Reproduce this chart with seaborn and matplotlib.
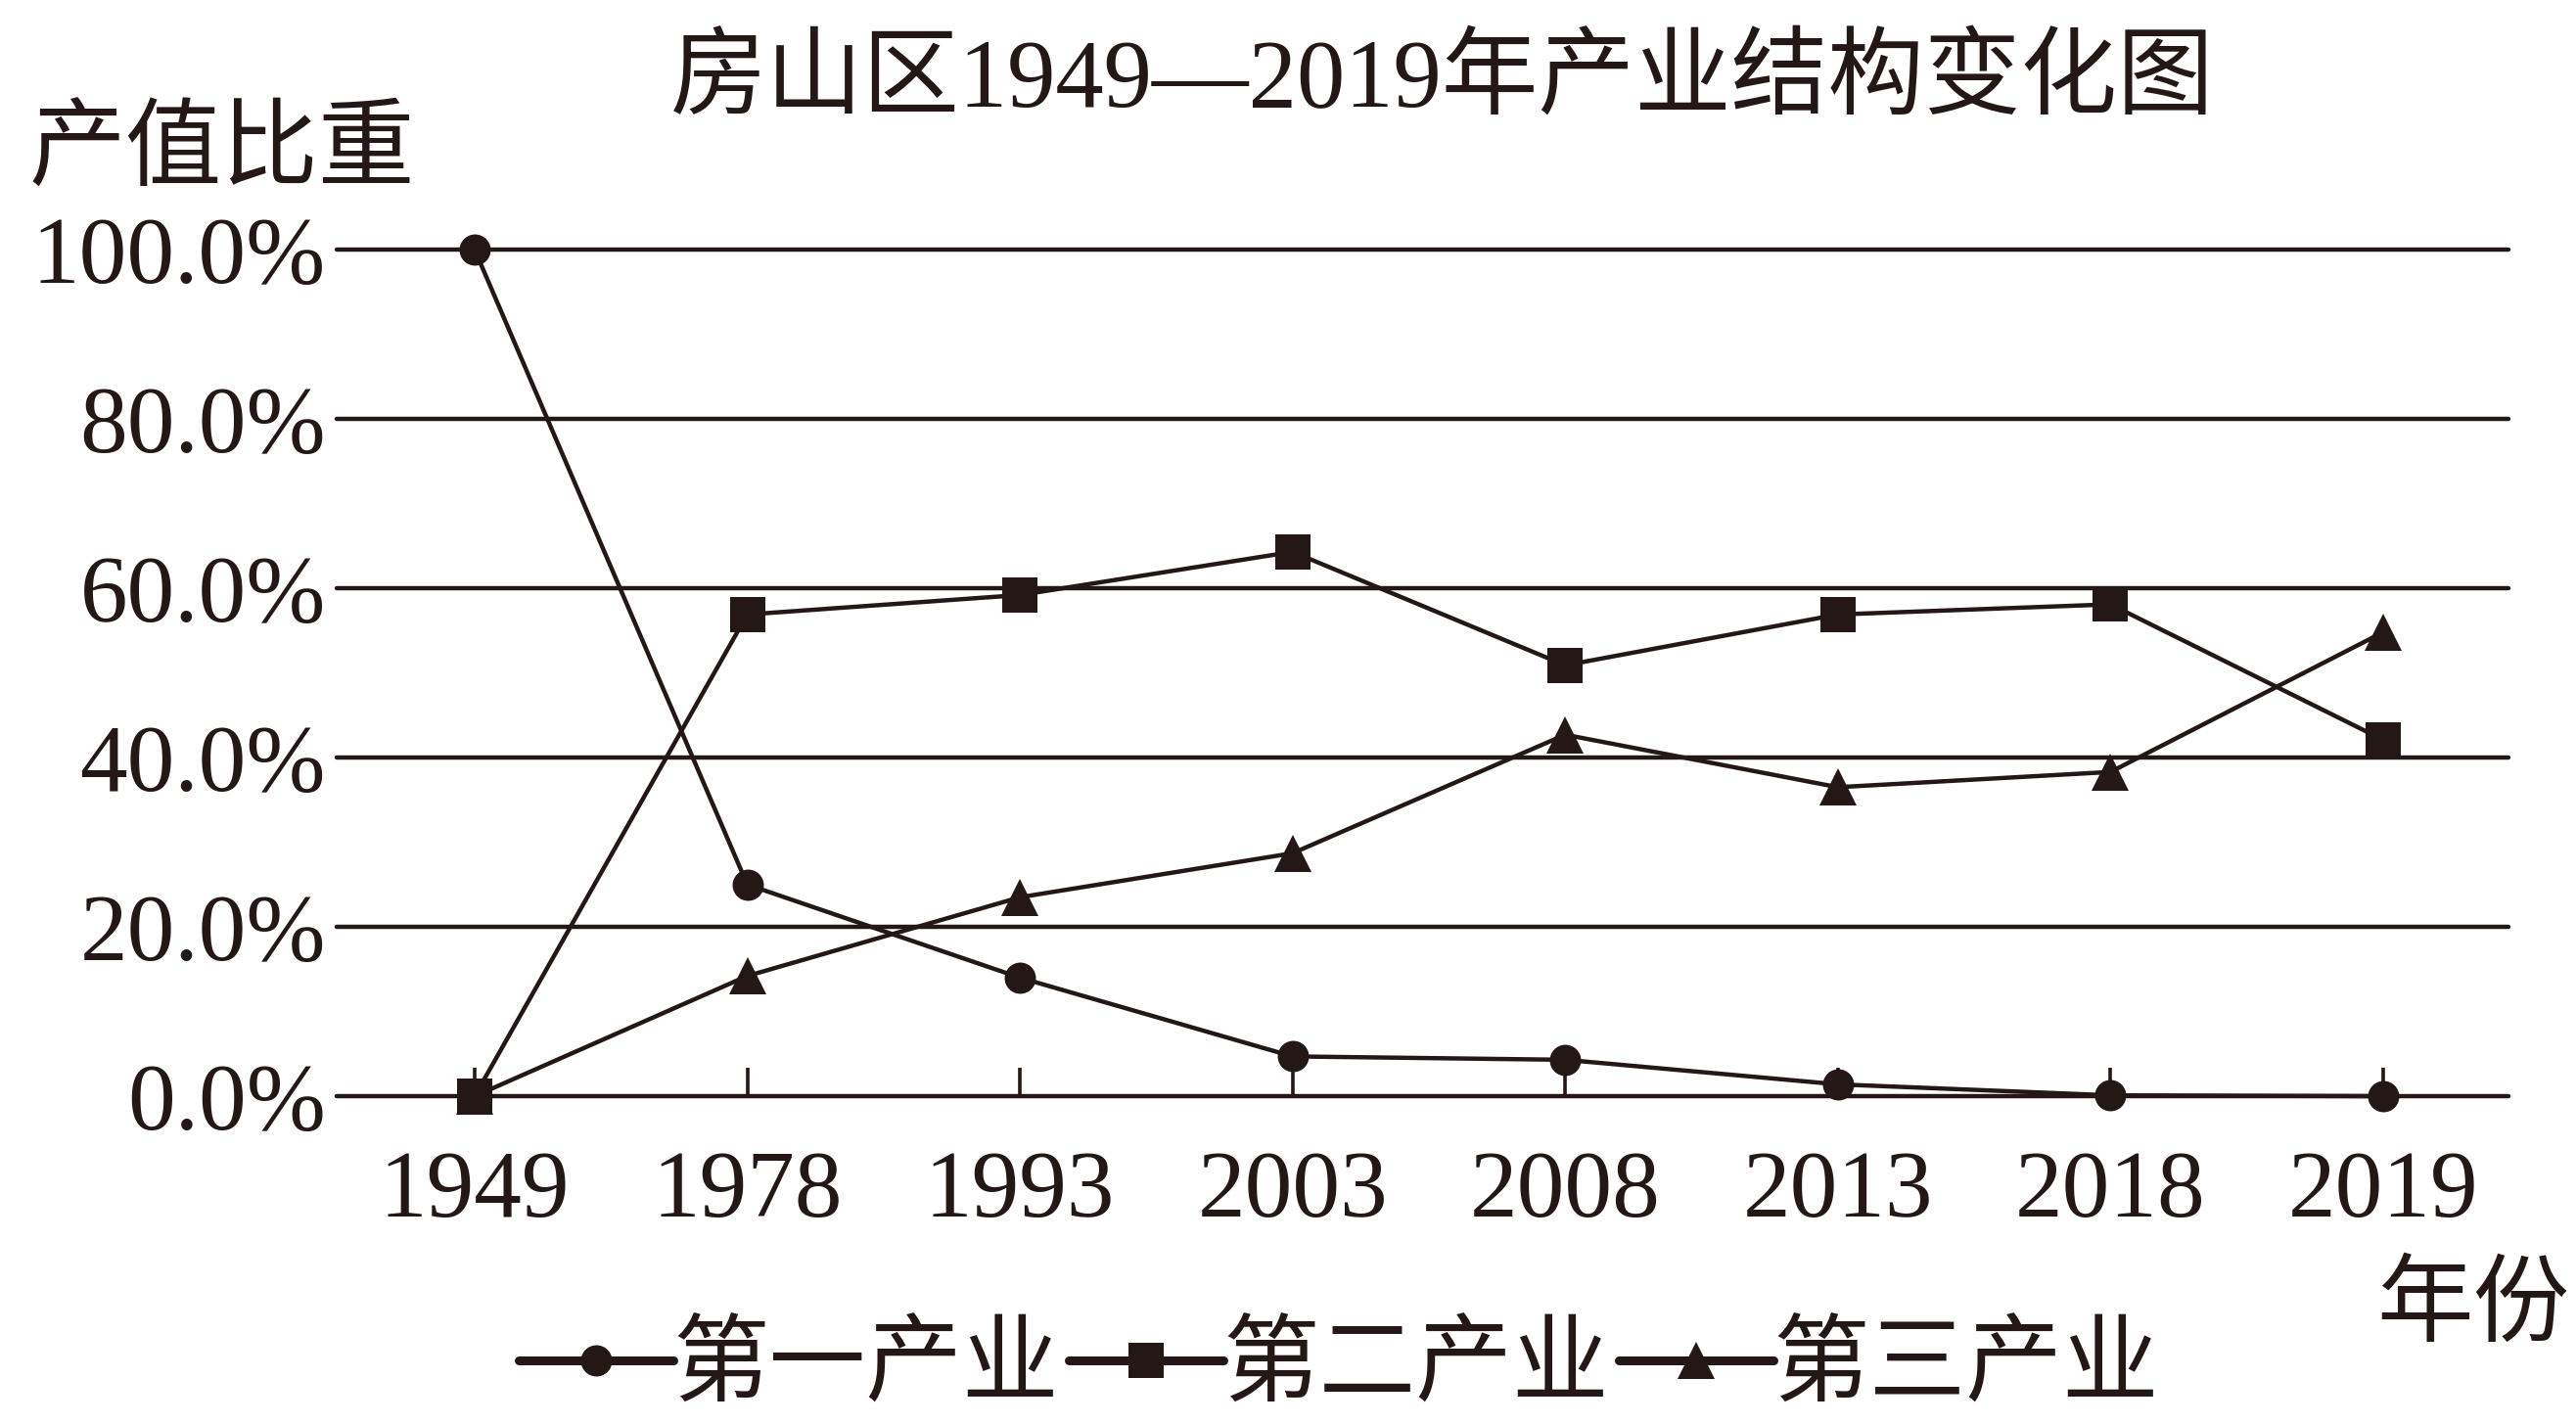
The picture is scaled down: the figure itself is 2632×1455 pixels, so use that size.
import pandas as pd
import seaborn as sns
import matplotlib.pyplot as plt
from matplotlib.lines import Line2D

# chart values
years = ["1949", "1978", "1993", "2003", "2008", "2013", "2018", "2019"]
primary = [100.0, 25.0, 14.0, 4.7, 4.3, 1.4, 0.1, 0.0]
secondary = [0.0, 56.9, 59.2, 64.3, 50.9, 56.9, 58.1, 42.1]
tertiary = [0.0, 14.2, 23.5, 28.7, 42.7, 36.5, 38.3, 54.8]
series_names = ["第一产业", "第二产业", "第三产业"]
y_ticks = [0, 20, 40, 60, 80, 100]

rows = []
for name, vals in zip(series_names, [primary, secondary, tertiary]):
    for i, (yr, v) in enumerate(zip(years, vals)):
        rows.append({"pos": i, "year": yr, "value": v, "series": name})
df = pd.DataFrame(rows)

sns.set_theme(style="white")
plt.rcParams['font.family'] = ['Liberation Serif', 'Noto Sans CJK SC']
plt.rcParams['axes.unicode_minus'] = False

ink = "#231815"
fig = plt.figure(figsize=(26.32, 14.55), dpi=100)
ax = fig.add_axes([0.1307, 0.2302, 0.8431, 0.5945])

ax = sns.lineplot(data=df, x="pos", y="value", hue="series", style="series",
                  palette=[ink, ink, ink],
                  markers={"第一产业": "o", "第二产业": "s", "第三产业": "^"},
                  dashes=False, linewidth=3.2, markeredgewidth=0,
                  legend=False, ax=ax)

sizes = {"o": 23, "s": 26, "^": 28}
for line, mk in zip(ax.lines, ["o", "s", "^"]):
    line.set_markersize(sizes[mk])
    line.set_clip_on(False)
    line.set_zorder(3)

ax.set_xlim(-0.506, 7.46)
ax.set_ylim(0, 100)
ax.set_xticks(range(len(years)))
ax.set_xticklabels(years)
ax.set_yticks(y_ticks)
ax.set_yticklabels([f"{t:.1f}%" for t in y_ticks])
ax.set_xlabel("")
ax.set_ylabel("")

# horizontal gridlines, the 0 line doubles as the x axis
for t in y_ticks:
    ax.axhline(t, color=ink, linewidth=3.2, zorder=1, clip_on=False)
for s in ax.spines.values():
    s.set_visible(False)

ax.tick_params(axis="x", direction="in", length=21, width=2.6, color=ink,
               pad=40, labelsize=70, labelcolor=ink, bottom=True)
ax.tick_params(axis="y", length=0, pad=8, labelsize=70, labelcolor=ink)

fig.text(0.560, 1 - 84 / 1455, "房山区1949—2019年产业结构变化图",
         ha="center", va="center", fontsize=71, color=ink)
fig.text(30 / 2632, 1 - 158 / 1455, "产值比重", ha="left", va="center",
         fontsize=71, color=ink)
fig.text(2527 / 2632, 1 - 1338 / 1455, "年份", ha="center", va="center",
         fontsize=71, color=ink)

handles = [Line2D([], [], color=ink, linewidth=6.5, marker=m, markersize=sizes[m],
                  markeredgewidth=0) for m in ["o", "s", "^"]]
fig.legend(handles, series_names, loc="center", ncol=3,
           bbox_to_anchor=(1368 / 2632, 1 - 1400 / 1455), frameon=False,
           fontsize=71, handlelength=1.6, handletextpad=0.0,
           columnspacing=0.1, labelcolor=ink)

plt.savefig("out.png", dpi=100)
